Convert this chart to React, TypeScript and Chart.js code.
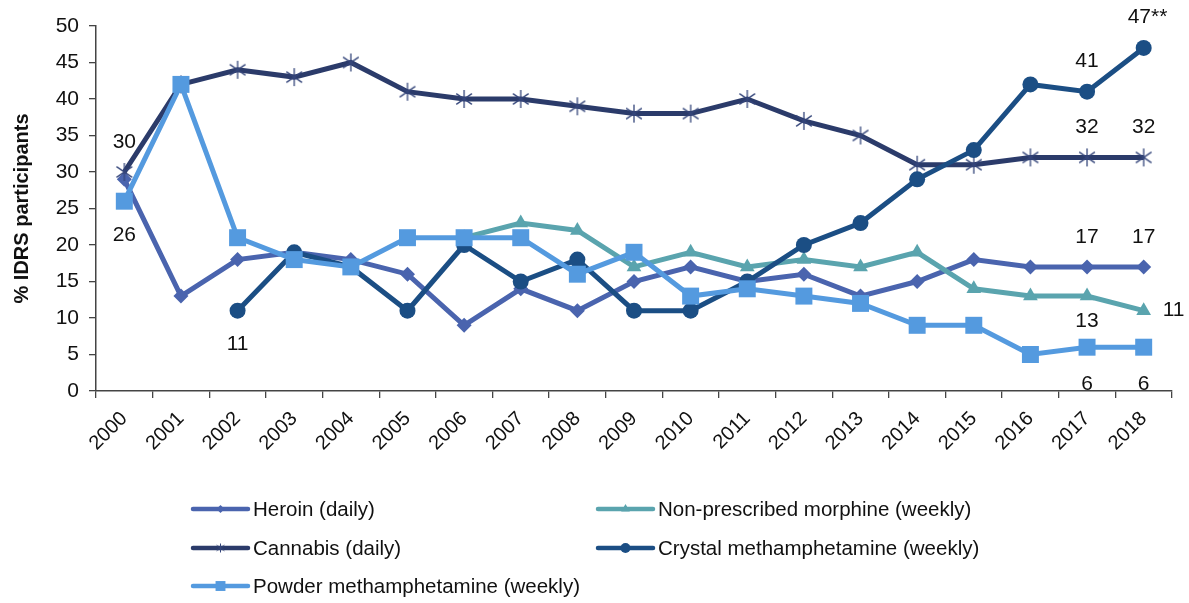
import React, { useEffect, useRef } from "react";
import { Chart, registerables } from "chart.js";

Chart.register(...registerables);

const years = ["2000","2001","2002","2003","2004","2005","2006","2007","2008","2009","2010","2011","2012","2013","2014","2015","2016","2017","2018"];
const heroin = [29,13,18,19,18,16,9,14,11,15,17,15,16,13,15,18,17,17,17];
const morphine = [null,null,null,null,null,null,21,23,22,17,19,17,18,17,19,14,13,13,11];
const cannabis = [30,42,44,43,45,41,40,40,39,38,38,40,37,35,31,31,32,32,32];
const crystal = [null,null,11,19,17,11,20,15,18,11,11,15,20,23,29,33,42,41,47];
const powder = [26,42,21,18,17,21,21,21,16,19,13,14,13,12,9,9,5,6,6];
const yTicks = [0,5,10,15,20,25,30,35,40,45,50];

const seriesNames = [
  "Heroin (daily)",
  "Non-prescribed morphine (weekly)",
  "Cannabis (daily)",
  "Crystal methamphetamine (weekly)",
  "Powder methamphetamine (weekly)",
];
const colors = ["#4A64AE", "#5AA4AE", "#2B3B6A", "#1B4E84", "#549ADF"];

// value annotations: dataset index, point index, text, placement
const annotations: [number, number, string, string][] = [
  [2, 0, "30", "above"],
  [4, 0, "26", "below"],
  [3, 2, "11", "below"],
  [3, 17, "41", "above"],
  [3, 18, "47**", "aboveStar"],
  [2, 17, "32", "above"],
  [2, 18, "32", "above"],
  [0, 17, "17", "above"],
  [0, 18, "17", "above"],
  [1, 17, "13", "belowNear"],
  [1, 18, "11", "right"],
  [4, 17, "6", "belowFar"],
  [4, 18, "6", "belowFar"],
];

const FONT = "'Liberation Sans', Arial, sans-serif";

function makeAsterisk(size: number, color: string, lw: number) {
  const c = document.createElement("canvas");
  c.width = size;
  c.height = size;
  const ctx = c.getContext("2d")!;
  ctx.strokeStyle = color;
  ctx.lineWidth = lw;
  const m = size / 2;
  const r = size / 2 - 1;
  ctx.beginPath();
  ctx.moveTo(m, m - r);
  ctx.lineTo(m, m + r);
  ctx.moveTo(m - r * 0.87, m - r * 0.6);
  ctx.lineTo(m + r * 0.87, m + r * 0.6);
  ctx.moveTo(m - r * 0.87, m + r * 0.6);
  ctx.lineTo(m + r * 0.87, m - r * 0.6);
  ctx.stroke();
  return c;
}

function drawPt(ctx: any, style: any, x: number, y: number, r: number) {
  if (style instanceof HTMLCanvasElement) {
    ctx.drawImage(style, x - style.width / 2, y - style.height / 2);
    return;
  }
  ctx.beginPath();
  if (style === "rectRot") {
    ctx.moveTo(x, y - r); ctx.lineTo(x + r, y); ctx.lineTo(x, y + r); ctx.lineTo(x - r, y); ctx.closePath();
  } else if (style === "triangle") {
    ctx.moveTo(x, y - r); ctx.lineTo(x + r * 0.87, y + r * 0.5); ctx.lineTo(x - r * 0.87, y + r * 0.5); ctx.closePath();
  } else if (style === "circle") {
    ctx.arc(x, y, r, 0, Math.PI * 2);
  } else {
    const s = r * 0.707;
    ctx.rect(x - s, y - s, 2 * s, 2 * s);
  }
  ctx.fill();
}

export default function App() {
  const ref = useRef<HTMLCanvasElement | null>(null);
  useEffect(() => {
    document.body.style.margin = "0";
    const canvas = ref.current!;
    const star = makeAsterisk(20, "#34457A", 1.3);
    const starSmall = makeAsterisk(11, "#34457A", 1);
    const styles: any[] = ["rectRot", "triangle", star, "circle", "rect"];
    const radii = [7.5, 8.5, 10, 8, 12];
    const legendStyles: any[] = ["rectRot", "triangle", starSmall, "circle", "rect"];
    const legendRadii = [4, 5, 5, 5, 7];
    const dataArrays = [heroin, morphine, cannabis, crystal, powder];
    const orders = [4, 3, 2, 1, 0];

    const labelPlugin = {
      id: "valueLabels",
      afterDatasetsDraw(chart: any) {
        const ctx = chart.ctx;
        ctx.save();
        ctx.font = "21px " + FONT;
        ctx.fillStyle = "#111";
        ctx.textBaseline = "middle";
        for (const [ds, i, text, place] of annotations) {
          const pt = chart.getDatasetMeta(ds).data[i];
          if (!pt) continue;
          let x = pt.x, y = pt.y;
          ctx.textAlign = "center";
          if (place === "above") y -= 30;
          else if (place === "below") y += 34;
          else if (place === "belowFar") y += 37;
          else if (place === "belowNear") y += 25;
          else if (place === "right") { ctx.textAlign = "left"; x += 19; }
          else if (place === "aboveStar") { ctx.textAlign = "left"; x -= 16; y -= 31; }
          ctx.fillText(text, x, y);
        }
        ctx.restore();
      },
    };

    const legendPlugin = {
      id: "customLegend",
      afterDraw(chart: any) {
        const ctx = chart.ctx;
        const cols = [193, 598];
        const rows = [509, 548, 586];
        const place = [[0, 0], [1, 0], [0, 1], [1, 1], [0, 2]];
        ctx.save();
        for (let k = 0; k < 5; k++) {
          const x = cols[place[k][0]];
          const y = rows[place[k][1]];
          ctx.strokeStyle = colors[k];
          ctx.lineWidth = 4.5;
          ctx.lineCap = "round";
          ctx.beginPath();
          ctx.moveTo(x, y);
          ctx.lineTo(x + 55, y);
          ctx.stroke();
          ctx.fillStyle = colors[k];
          drawPt(ctx, legendStyles[k], x + 27.5, y, legendRadii[k]);
          ctx.fillStyle = "#111";
          ctx.font = "20.5px " + FONT;
          ctx.textAlign = "left";
          ctx.textBaseline = "middle";
          ctx.fillText(seriesNames[k], x + 60, y + 1);
        }
        ctx.restore();
      },
    };

    const chart = new Chart(canvas, {
      type: "line",
      data: {
        labels: years,
        datasets: dataArrays.map((d, k) => ({
          label: seriesNames[k],
          data: d,
          borderColor: colors[k],
          backgroundColor: colors[k],
          borderWidth: 5,
          pointStyle: styles[k],
          pointRadius: radii[k],
          pointBorderWidth: 0,
          pointBackgroundColor: colors[k],
          pointBorderColor: colors[k],
          spanGaps: false,
          tension: 0,
          order: orders[k],
        })),
      },
      options: {
        responsive: false,
        animation: false,
        events: [],
        layout: { padding: { top: 26, right: 17, left: 0, bottom: 0 } },
        plugins: { legend: { display: false }, tooltip: { enabled: false } },
        scales: {
          x: {
            offset: true,
            grid: { offset: true, drawOnChartArea: false, drawTicks: true, tickLength: 7, color: "#444", lineWidth: 1.3 },
            border: { display: true, color: "#444", width: 1.5 },
            ticks: {
              maxRotation: 45,
              minRotation: 45,
              autoSkip: false,
              padding: 9,
              color: "#111",
              font: { family: FONT, size: 20 },
            },
            afterFit(scale: any) { scale.height = 603 - 391; },
          },
          y: {
            min: 0,
            max: 50,
            afterBuildTicks(scale: any) { scale.ticks = yTicks.map((v) => ({ value: v })); },
            grid: { drawOnChartArea: false, drawTicks: true, tickLength: 7, color: "#444", lineWidth: 1.3 },
            border: { display: true, color: "#444", width: 1.5 },
            ticks: {
              padding: 10,
              color: "#111",
              font: { family: FONT, size: 21 },
            },
            title: {
              display: true,
              text: "% IDRS participants",
              color: "#111",
              padding: { top: 10, bottom: 0 },
              font: { family: FONT, size: 20, weight: "bold" },
            },
            afterFit(scale: any) { scale.width = 96; },
          },
        },
      },
      plugins: [labelPlugin, legendPlugin],
    } as any);
    return () => chart.destroy();
  }, []);
  return (
    <div style={{ width: 1189, height: 603 }}>
      <canvas ref={ref} width={1189} height={603} />
    </div>
  );
}
